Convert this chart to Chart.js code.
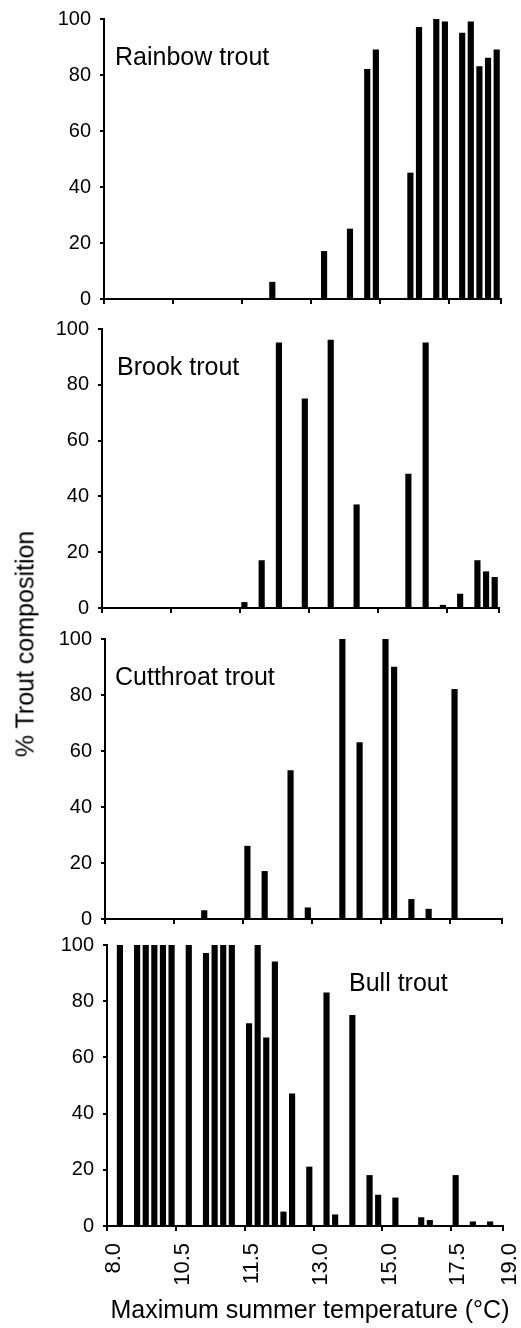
<!DOCTYPE html>
<html>
<head>
<meta charset="utf-8">
<script src="https://cdn.jsdelivr.net/npm/chart.js@4.4.0/dist/chart.umd.min.js"></script>
<style>
  body { margin: 0; background: #fff; }
  #wrap { position: relative; width: 521px; height: 1328px; overflow: hidden;
          font-family: Arial, "Liberation Sans", sans-serif; color: #000; }
  #wrap canvas { position: absolute; left: 0; }
  .axis-title { position: absolute; font-size: 25px; line-height: 1; white-space: nowrap;
                transform: translate(-50%, -50%); }
  #yTitle { left: 25px; top: 644px; transform: translate(-50%, -50%) rotate(-90deg); }
  #xTitle { left: 310px; top: 1309px; }
</style>
</head>
<body>
<div id="wrap">
  <canvas id="c0"></canvas>
  <canvas id="c1"></canvas>
  <canvas id="c2"></canvas>
  <canvas id="c3"></canvas>
  <div class="axis-title" id="yTitle">% Trout composition</div>
  <div class="axis-title" id="xTitle">Maximum summer temperature (°C)</div>
</div>
<script>
// Sites are ranked by maximum summer temperature (46 sites), ticks every 8 sites
const siteCount = 46;
const tickPos = [0, 8, 16, 24, 32, 40, 46];
const tickLabels = ['8.0', '10.5', '11.5', '13.0', '15.0', '17.5', '19.0'];

const speciesNames = ['Rainbow trout', 'Brook trout', 'Cutthroat trout', 'Bull trout'];

const rainbowSites = [19, 25, 28, 30, 31, 35, 36, 38, 39, 41, 42, 43, 44, 45];
const rainbowValues = [6, 17, 25, 82, 89, 45, 97, 100, 99, 95, 99, 83, 86, 89];

const brookSites = [16, 18, 20, 23, 26, 29, 35, 37, 39, 41, 43, 44, 45];
const brookValues = [2, 17, 95, 75, 96, 37, 48, 95, 1, 5, 17, 13, 11];

const cutthroatSites = [11, 16, 18, 21, 23, 27, 29, 32, 33, 35, 37, 40];
const cutthroatValues = [3, 26, 17, 53, 4, 100, 63, 100, 90, 7, 3.5, 82];

const bullSites = [1, 3, 4, 5, 6, 7, 9, 11, 12, 13, 14, 16, 17, 18, 19, 20, 21,
                   23, 25, 26, 28, 30, 31, 33, 36, 37, 40, 42, 44];
const bullValues = [100, 100, 100, 100, 100, 100, 100, 97, 100, 100, 100, 72, 100, 67, 94, 5, 47,
                    21, 83, 4, 75, 18, 11, 10, 3, 2, 18, 1.5, 1.5];

// Panel layout (page pixels)
const plotTop = [19, 329, 639, 945];
const plotBottom = [299, 608, 919, 1226];
const plotLeft = [104, 102, 105, 107];
const plotRight = [501, 499, 502, 503];
const labelOffset = [[11, 46], [15, 46], [10, 46], [242, 46]];

Chart.defaults.font.family = 'Arial, "Liberation Sans", sans-serif';
Chart.defaults.color = '#000';

// Draws the species name inside the plot area
const panelLabel = {
    id: 'panelLabel',
    afterDraw(chart, args, opts) {
        const ctx = chart.ctx;
        const area = chart.chartArea;
        ctx.save();
        ctx.font = '25px Arial, "Liberation Sans", sans-serif';
        ctx.fillStyle = '#000';
        ctx.textAlign = 'left';
        ctx.textBaseline = 'alphabetic';
        ctx.fillText(opts.text, area.left + opts.dx, area.top + opts.dy);
        ctx.restore();
    }
};

function makePanel(i, sites, values) {
    const isLast = i === 3;
    const padTop = 16;
    const yAxisW = 90;
    const xAxisH = isLast ? 1328 - plotBottom[i] : 6;
    const padBottom = isLast ? 0 : 10;
    const canvasTop = plotTop[i] - padTop;
    const canvas = document.getElementById('c' + i);
    canvas.width = 521;
    canvas.height = plotBottom[i] - canvasTop + xAxisH + padBottom;
    canvas.style.top = canvasTop + 'px';

    return new Chart(canvas, {
        type: 'bar',
        data: {
            datasets: [{
                label: speciesNames[i],
                data: sites.map((s, k) => ({ x: s + 0.5, y: values[k] })),
                backgroundColor: '#000',
                borderWidth: 0,
                barThickness: 5.5
            }]
        },
        options: {
            responsive: false,
            animation: false,
            devicePixelRatio: 1,
            layout: {
                padding: {
                    top: padTop,
                    bottom: padBottom,
                    left: plotLeft[i] - yAxisW,
                    right: 521 - plotRight[i]
                }
            },
            plugins: {
                legend: { display: false },
                tooltip: { enabled: false },
                panelLabel: { text: speciesNames[i], dx: labelOffset[i][0], dy: labelOffset[i][1] }
            },
            scales: {
                x: {
                    type: 'linear',
                    min: 0,
                    max: siteCount,
                    offset: false,
                    grid: { offset: false, drawOnChartArea: false, drawTicks: true, tickLength: 5, color: '#000', lineWidth: 2 },
                    border: { display: true, color: '#000', width: 2 },
                    afterBuildTicks: s => { s.ticks = tickPos.map(v => ({ value: v })); },
                    afterFit: s => { s.height = xAxisH; s.paddingLeft = 0; s.paddingRight = 0; },
                    ticks: {
                        display: isLast,
                        autoSkip: false,
                        minRotation: 90,
                        maxRotation: 90,
                        padding: 12,
                        labelOffset: 7,
                        font: { size: 22 },
                        callback: v => tickLabels[tickPos.indexOf(v)]
                    }
                },
                y: {
                    min: 0,
                    max: 100,
                    grid: { drawOnChartArea: false, tickLength: 4, color: '#000', lineWidth: 2 },
                    border: { display: true, color: '#000', width: 2 },
                    afterFit: s => { s.width = yAxisW; s.paddingTop = 0; s.paddingBottom = 0; },
                    ticks: { stepSize: 20, padding: 9, font: { size: 20 } }
                }
            }
        },
        plugins: [panelLabel]
    });
}

makePanel(0, rainbowSites, rainbowValues);
makePanel(1, brookSites, brookValues);
makePanel(2, cutthroatSites, cutthroatValues);
makePanel(3, bullSites, bullValues);
</script>
</body>
</html>
